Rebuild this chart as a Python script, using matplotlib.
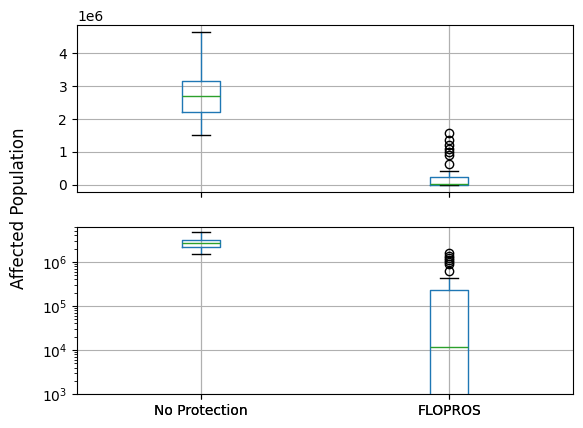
import matplotlib.pyplot as plt

# box statistics
labels = ['No Protection', 'FLOPROS']
medians = [2.69e6, 1.2e4]
q1s = [2.21e6, 0.0]
q3s = [3.17e6, 2.3e5]
whis_lo = [1.51e6, 0.0]
whis_hi = [4.63e6, 4.2e5]
fliers_noprot = []
fliers_flopros = [1.58e6, 1.35e6, 1.2e6, 1.1e6, 1.0e6, 0.9e6, 0.63e6]
log_ylim = (1e3, 6.3e6)


def make_stats():
    fl = [fliers_noprot, fliers_flopros]
    stats = []
    for i, lab in enumerate(labels):
        stats.append({
            'label': lab,
            'med': medians[i],
            'q1': q1s[i],
            'q3': q3s[i],
            'whislo': whis_lo[i],
            'whishi': whis_hi[i],
            'fliers': fl[i],
        })
    return stats


def draw_box(ax):
    ax.bxp(make_stats(), showfliers=True,
           boxprops=dict(color='#1f77b4'),
           whiskerprops=dict(color='#1f77b4'),
           medianprops=dict(color='#2ca02c'),
           capprops=dict(color='k'),
           flierprops=dict(marker='o', markerfacecolor='none',
                           markeredgecolor='k'))
    ax.grid(True)


fig, (ax1, ax2) = plt.subplots(2, 1, sharex=True, figsize=(5.83, 4.28), dpi=100)
plt.subplots_adjust(left=0.132, right=0.983, top=0.942, bottom=0.079, hspace=0.203)

draw_box(ax1)
draw_box(ax2)
ax2.set_yscale('log')
ax2.set_ylim(*log_ylim)
ax2.set_xlim(0.5, 2.5)

fig.supylabel('Affected Population', x=0.017, y=0.513)

plt.savefig('out.png', dpi=100)
